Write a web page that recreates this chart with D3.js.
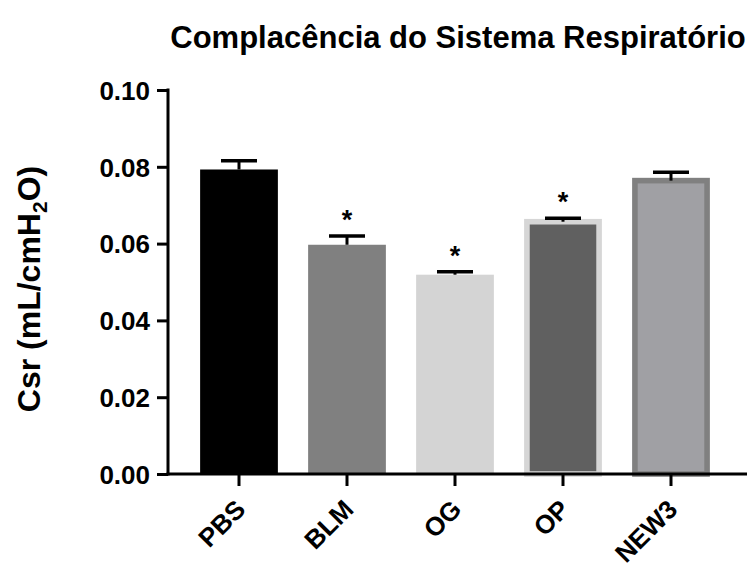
<!DOCTYPE html>
<html lang=en>
<head>
	<meta charset="utf-8">
	<title>Complacência do Sistema Respiratório</title>
	<script src="https://cdn.jsdelivr.net/npm/d3@7"></script>
	<style>
		body { margin: 0; background: #fff; }
		text { font-family: "Liberation Sans", Arial, sans-serif; font-weight: bold; fill: #000; }
	</style>
</head>
<body>
	<script type="text/javascript">
	// data
	var groups = ["PBS", "BLM", "OG", "OP", "NEW3"];
	var means  = [0.0793, 0.0597, 0.0519, 0.0657, 0.0764];
	var sems   = [0.0023, 0.0023, 0.0008, 0.0009, 0.0022];
	var signif = ["", "*", "*", "*", ""];
	var fills   = ["#000000", "#808080", "#d4d4d4", "#606060", "#a0a0a4"];
	var borders = [null, null, null, "#d6d6d6", "#808080"];
	var yTicks = [0, 0.02, 0.04, 0.06, 0.08, 0.10];

	var width = 747, height = 565;
	var border = 5.6;

	var svg = d3.select('body')
				.append('svg')
				.attr('width', width)
				.attr('height', height);

	var x = d3.scaleBand()
			.domain(groups)
			.range([185, 725])
			.paddingInner(0.28)
			.paddingOuter(0.14);

	var y = d3.scaleLinear()
			.domain([0, 0.10])
			.range([474, 90]);

	var rows = groups.map(function(g, i){
		return {g: g, m: means[i], e: sems[i], s: signif[i], fill: fills[i], border: borders[i]};
	});

	// bars
	svg.selectAll('rect.bar')
		.data(rows)
		.enter()
		.append('rect')
		.attr('class', 'bar')
		.attr('x', function(d){ return d.border ? x(d.g) + border/2 : x(d.g); })
		.attr('width', function(d){ return d.border ? x.bandwidth() - border : x.bandwidth(); })
		.attr('y', function(d){ return y(d.m); })
		.attr('height', function(d){ return y(0) - y(d.m); })
		.attr('fill', function(d){ return d.fill; })
		.attr('stroke', function(d){ return d.border || 'none'; })
		.attr('stroke-width', border);

	// error bars (up only)
	var err = svg.selectAll('g.err')
		.data(rows)
		.enter()
		.append('g')
		.attr('class', 'err');

	err.append('line')
		.attr('x1', function(d){ return x(d.g) + x.bandwidth()/2; })
		.attr('x2', function(d){ return x(d.g) + x.bandwidth()/2; })
		.attr('y1', function(d){ return y(d.m); })
		.attr('y2', function(d){ return y(d.m + d.e); })
		.attr('stroke', '#000')
		.attr('stroke-width', 3);

	err.append('line')
		.attr('x1', function(d){ return x(d.g) + x.bandwidth()/2 - 18; })
		.attr('x2', function(d){ return x(d.g) + x.bandwidth()/2 + 18; })
		.attr('y1', function(d){ return y(d.m + d.e); })
		.attr('y2', function(d){ return y(d.m + d.e); })
		.attr('stroke', '#000')
		.attr('stroke-width', 3.5);

	err.append('text')
		.attr('x', function(d){ return x(d.g) + x.bandwidth()/2; })
		.attr('y', function(d){ return y(d.m + d.e) - 7; })
		.attr('text-anchor', 'middle')
		.style('font-size', '27px')
		.text(function(d){ return d.s; });

	// y axis
	var yAxis = svg.append('g')
		.attr('transform', 'translate(168,0)')
		.call(d3.axisLeft(y).tickValues(yTicks).tickFormat(d3.format('.2f')).tickSize(11).tickPadding(7));

	// x axis
	var xAxis = svg.append('g')
		.attr('transform', 'translate(0,474)')
		.call(d3.axisBottom(x).tickSize(12).tickSizeOuter(0));

	xAxis.select('.domain').attr('d', 'M166.5,0H747');
	yAxis.select('.domain').attr('d', 'M0,88.5V475.5');

	svg.selectAll('.domain').attr('stroke', '#000').attr('stroke-width', 3);
	svg.selectAll('.tick line').attr('stroke', '#000').attr('stroke-width', 3);

	yAxis.selectAll('.tick text')
		.style('font-size', '26px')
		.attr('dy', '0.36em');

	xAxis.selectAll('.tick text')
		.style('font-size', '26px')
		.attr('text-anchor', 'end')
		.attr('dy', null)
		.attr('y', 0)
		.attr('x', 0)
		.attr('transform', 'translate(8,37) rotate(-45)');

	// y label
	var yLabel = svg.append('text')
		.attr('transform', 'translate(40,289) rotate(-90)')
		.attr('text-anchor', 'middle')
		.style('font-size', '32px');
	yLabel.append('tspan').text('Csr (mL/cmH');
	yLabel.append('tspan').attr('dy', 7).style('font-size', '21px').text('2');
	yLabel.append('tspan').attr('dy', -7).text('O)');

	// title
	svg.append('text')
		.attr('x', 458)
		.attr('y', 48)
		.attr('text-anchor', 'middle')
		.style('font-size', '31px')
		.text('Complacência do Sistema Respiratório');
	</script>
</body>
</html>
